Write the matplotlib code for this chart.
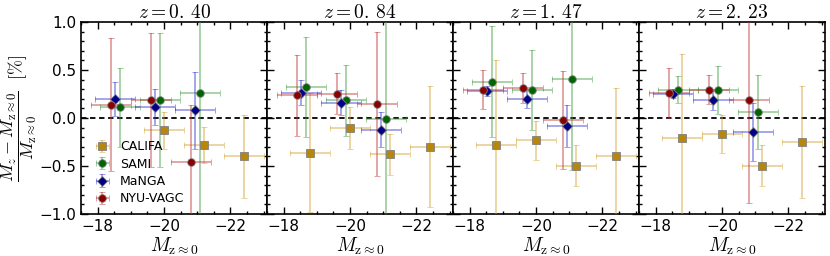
import numpy as np
import matplotlib.pyplot as plt
from matplotlib.colors import to_rgba

plt.rcParams['mathtext.fontset'] = 'cm'
plt.rcParams['font.family'] = 'DejaVu Sans'

nan = np.nan

# redshift of each panel
redshifts = ['0.40', '0.84', '1.47', '2.23']

# magnitude bin centres (slightly shifted per survey) and half-width
califa_x = [-18.8, -20.0, -21.2, -22.4]
sami_x = [-18.67, -19.87, -21.07]
manga_x = [-18.53, -19.73, -20.93]
nyu_x = [-18.4, -19.6, -20.8]
bin_halfwidth = 0.6

# relative change per panel (rows = redshifts)
califa_y = [[nan, -0.13, -0.28, -0.40],
            [-0.36, -0.105, -0.38, -0.30],
            [-0.286, -0.234, -0.496, -0.394],
            [-0.21, -0.164, -0.496, -0.25]]
califa_err = [[nan, 0.19, 0.19, 0.43],
              [0.62, 0.22, 0.21, 0.63],
              [0.89, 0.20, 0.21, 0.71],
              [0.88, 0.20, 0.21, 0.58]]

sami_y = [[0.11, 0.185, 0.265],
          [0.32, 0.185, -0.007],
          [0.38, 0.29, 0.405],
          [0.297, 0.297, 0.063]]
sami_err = [[0.41, 0.70, 1.5],
            [0.52, 0.37, 1.5],
            [0.58, 0.42, 0.95],
            [0.14, 0.25, 0.39]]

manga_y = [[0.20, 0.115, 0.08],
           [0.265, 0.157, -0.12],
           [0.28, 0.20, -0.087],
           [0.255, 0.185, -0.147]]
manga_err = [[0.18, 0.19, 0.40],
             [0.13, 0.13, 0.18],
             [0.05, 0.10, 0.22],
             [0.05, 0.10, 0.30]]

nyu_y = [[0.14, 0.19, -0.46],
         [0.237, 0.255, 0.15],
         [0.297, 0.314, -0.017],
         [0.265, 0.297, 0.185]]
nyu_err = [[0.69, 0.70, 0.60],
           [0.42, 0.21, 0.75],
           [0.20, 0.16, 0.51],
           [0.26, 0.15, 1.07]]

surveys = [
    ('CALIFA', califa_x, califa_y, califa_err, 's', '#b8860b', '#d4a030'),
    ('SAMI', sami_x, sami_y, sami_err, 'o', '#006400', '#3a9a3a'),
    ('MaNGA', manga_x, manga_y, manga_err, 'D', '#00008b', '#3030d0'),
    ('NYU-VAGC', nyu_x, nyu_y, nyu_err, 'o', '#8b0000', '#c03030'),
]

fig, axes = plt.subplots(1, 4, figsize=(8.3, 2.56), dpi=100, sharey=True)
fig.subplots_adjust(left=0.0976, right=0.994, top=0.914, bottom=0.164, wspace=0)

for i, ax in enumerate(axes):
    ax.axhline(0, color='k', ls='--', lw=1.3, dashes=(3, 2), zorder=1)
    for name, xs, ys, errs, mk, fc, ec in surveys:
        ax.errorbar(xs, ys[i], xerr=bin_halfwidth, yerr=errs[i], fmt=mk,
                    color=fc, mfc=fc, mec='#808080', mew=0.6,
                    ms=5.5 if mk != 'D' else 5,
                    ecolor=to_rgba(ec, 0.55), elinewidth=1.1,
                    capsize=2, capthick=1, label=name, zorder=3)
    ax.set_xlim(-17.5, -23.1)
    ax.set_ylim(-1.0, 1.0)
    ax.set_xticks([-18, -20, -22])
    ax.set_xticklabels(['\u221218', '\u221220', '\u221222'])
    ax.set_xticks(np.arange(-23.0, -17.4, 0.5), minor=True)
    ax.set_yticks(np.arange(-1.0, 1.01, 0.5))
    ax.set_yticks(np.arange(-1.0, 1.01, 0.1), minor=True)
    ax.tick_params(which='both', direction='in', top=True, right=True,
                   labelsize=11, width=1)
    ax.tick_params(which='major', length=5)
    ax.tick_params(which='minor', length=2.5)
    for sp in ax.spines.values():
        sp.set_linewidth(1.2)
    ax.set_title(r'$z = %s$' % redshifts[i].replace('.', r'.\,'), fontsize=14, pad=3)
    ax.set_xlabel(r'$M_{\rm z \approx 0}$', fontsize=14, labelpad=1)

axes[0].set_yticklabels(['\u22121.0', '\u22120.5', '0.0', '0.5', '1.0'])
axes[0].set_ylabel(r'$\dfrac{M_z - M_{\rm z \approx 0}}{M_{\rm z \approx 0}}\ \ [\%]$',
                   fontsize=13, labelpad=0)
axes[0].legend(loc='lower left', frameon=False, fontsize=9, numpoints=1,
               handletextpad=0.4, labelspacing=0.35, borderaxespad=0.3)

fig.savefig('out.png', dpi=100)
